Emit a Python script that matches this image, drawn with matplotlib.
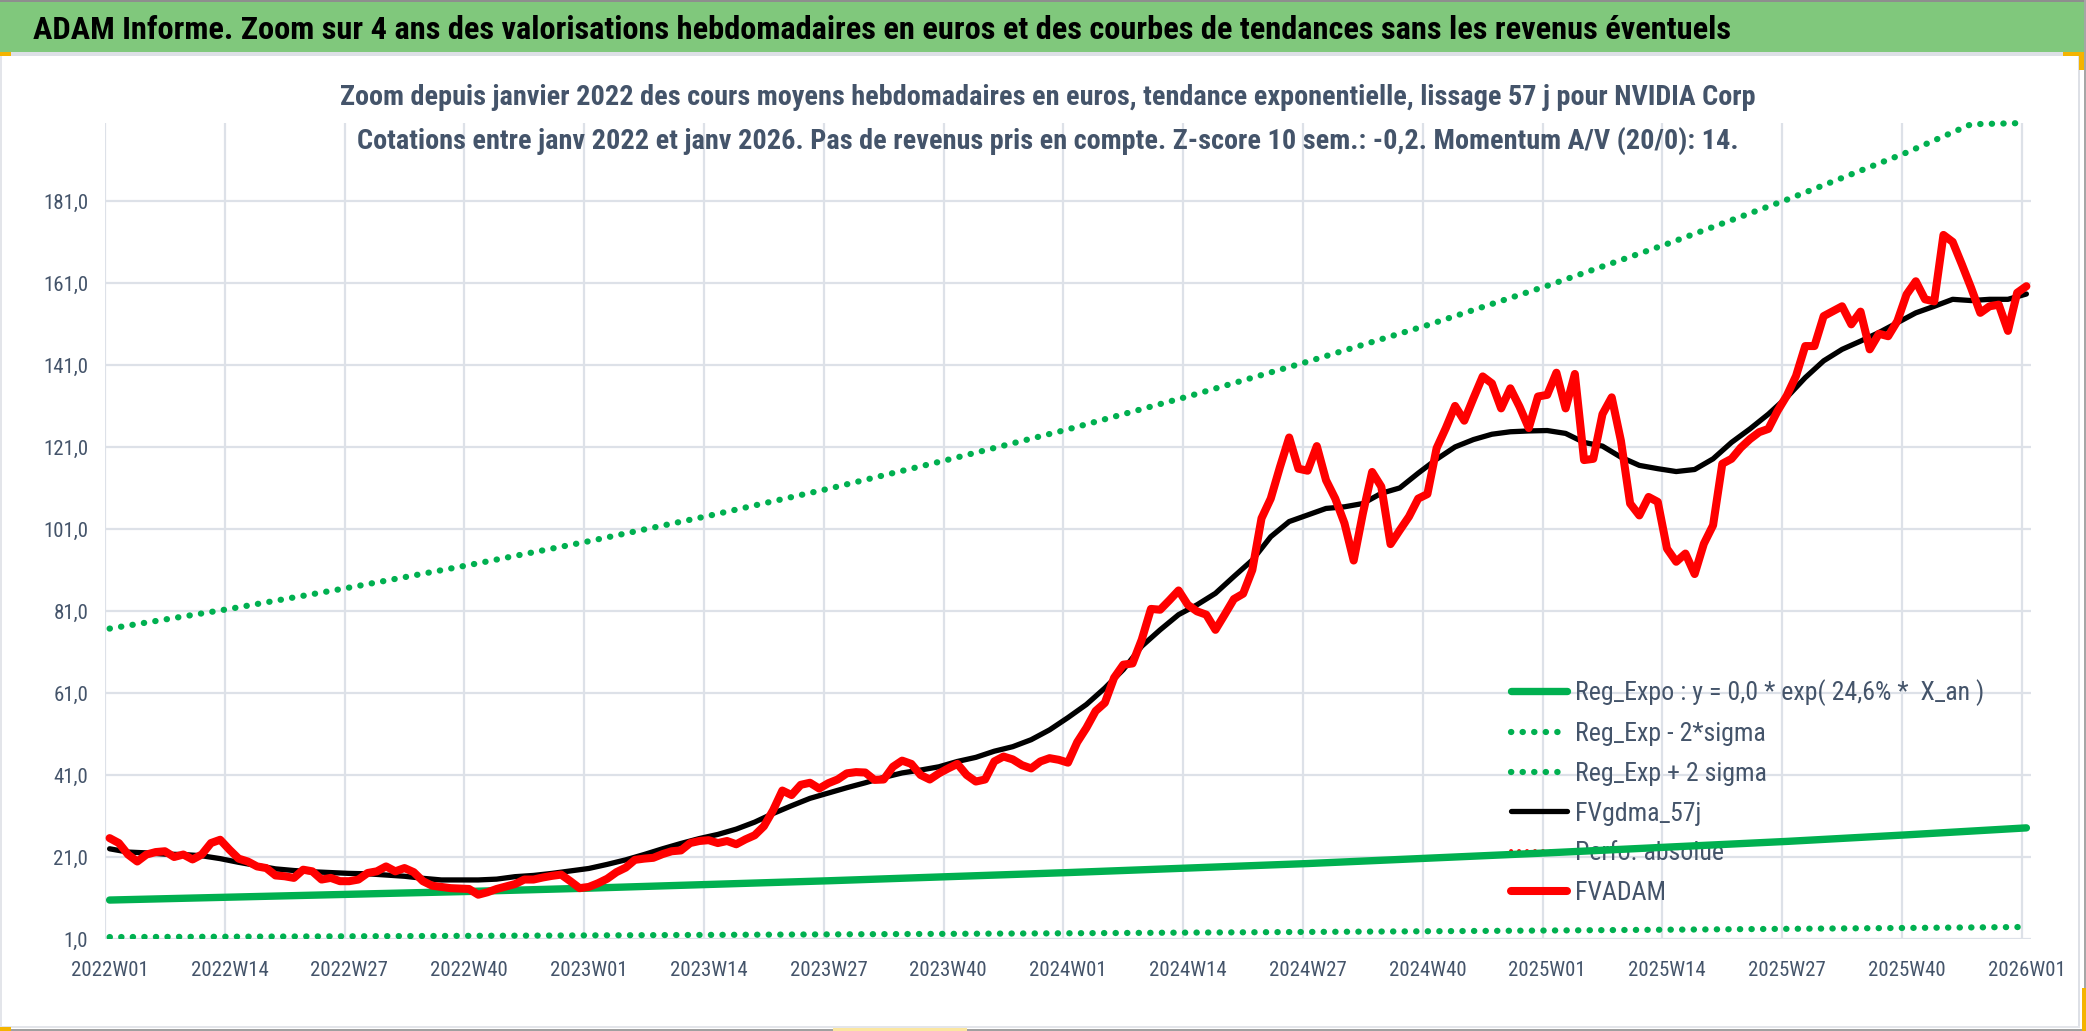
import numpy as np
import matplotlib
matplotlib.use("Agg")
import matplotlib.pyplot as plt
from matplotlib import font_manager as fm
from matplotlib.patches import Rectangle

# ---------------------------------------------------------------- data
week_labels = ["2022W01", "2022W14", "2022W27", "2022W40", "2023W01", "2023W14",
               "2023W27", "2023W40", "2024W01", "2024W14", "2024W27", "2024W40",
               "2025W01", "2025W14", "2025W27", "2025W40", "2026W01"]
label_weeks = [0, 13, 26, 39, 52, 65, 78, 91, 104, 117, 130, 143, 156, 169, 182, 195, 208]
y_ticks = [1, 21, 41, 61, 81, 101, 121, 141, 161, 181]

# FVADAM weekly values (2022W01 .. 2026W01)
fvadam = [
    25.6, 24.4, 21.6, 19.9, 21.6, 22.2, 22.4, 21.0, 21.6, 20.4, 21.6, 24.4, 25.2,
    22.8, 20.6, 19.9, 18.7, 18.3, 16.5, 16.3, 15.9, 17.9, 17.5, 15.5, 15.9, 15.1,
    15.1, 15.5, 17.1, 17.5, 18.7, 17.5, 18.3, 17.3, 15.1, 14.0, 13.7, 13.4, 13.3,
    13.2, 11.8, 12.4, 13.2, 13.8, 14.4, 15.5, 15.5, 16.0, 16.4, 16.7, 15.1, 13.4,
    13.7, 14.6, 15.7, 17.3, 18.4, 20.3, 20.6, 20.8, 21.7, 22.4, 22.6, 24.4, 24.9,
    25.1, 24.4, 24.9, 24.1, 25.3, 26.3, 28.5, 32.4, 37.2, 36.1, 38.6, 39.1, 37.7,
    39.0, 39.9, 41.4, 41.7, 41.6, 39.8, 39.9, 43.0, 44.5, 43.7, 41.0, 39.9, 41.4,
    42.6, 43.7, 41.0, 39.4, 39.9, 44.3, 45.5, 44.8, 43.4, 42.6, 44.3, 45.1, 44.7,
    44.0, 49.0, 52.5, 56.6, 58.6, 64.7, 67.9, 68.2, 74.0, 81.5, 81.3, 83.6, 86.0,
    82.5, 80.9, 80.1, 76.4, 80.1, 83.9, 85.2, 91.0, 103.6, 108.4, 116.1, 123.3, 115.7,
    115.2, 121.2, 112.9, 108.4, 102.4, 93.3, 104.8, 114.9, 111.3, 97.3, 100.7, 104.0, 108.4,
    109.5, 120.7, 125.6, 131.0, 127.4, 132.9, 138.2, 136.5, 130.4, 135.3, 130.8, 125.6, 133.3,
    133.7, 139.1, 130.4, 138.8, 117.8, 118.1, 129.0, 133.1, 122.5, 107.2, 104.3, 108.8, 107.6,
    96.2, 93.0, 95.0, 90.0, 97.4, 101.9, 116.9, 118.1, 120.8, 122.9, 124.6, 125.4, 129.8,
    133.5, 138.3, 145.6, 145.6, 152.9, 154.1, 155.3, 150.9, 154.0, 144.8, 148.6, 148.0, 151.7,
    158.2, 161.4, 157.0, 156.5, 172.7, 171.0, 165.5, 159.8, 153.7, 155.3, 155.7, 149.3, 158.6,
    160.2,
]

# FVgdma_57j, read every second week
fvgdma_weeks = list(range(0, 209, 2))
fvgdma = [
    23.0, 22.2, 22.0, 21.7, 21.6, 21.3, 20.6, 19.7, 18.9, 18.1, 17.7, 17.4, 17.2,
    17.0, 16.9, 16.6, 16.3, 15.8, 15.4, 15.4, 15.4, 15.6, 16.2, 16.5, 17.0, 17.6,
    18.2, 19.2, 20.3, 21.6, 23.0, 24.3, 25.5, 26.5, 27.8, 29.5, 31.6, 33.5, 35.3,
    36.6, 37.9, 39.1, 40.4, 41.5, 42.2, 43.0, 44.3, 45.3, 46.8, 47.9, 49.6, 52.0,
    55.0, 58.2, 62.2, 66.7, 72.4, 76.4, 80.1, 82.5, 85.3, 89.4, 93.4, 99.1, 102.8,
    104.4, 106.0, 106.4, 107.2, 109.7, 111.0, 114.6, 118.0, 121.0, 122.8, 124.1, 124.7, 124.9,
    125.0, 124.3, 122.1, 121.2, 118.5, 116.5, 115.7, 115.0, 115.5, 118.1, 122.1, 125.4, 129.0,
    133.1, 137.9, 142.0, 144.8, 146.8, 148.9, 151.3, 153.7, 155.3, 157.0, 156.7, 157.0, 157.0,
    158.3,
]

# Exponential trend and bands, read at each labelled week
reg_expo = [10.5, 11.2, 11.9, 12.6, 13.4, 14.3, 15.2, 16.2, 17.2, 18.3, 19.4,
            20.7, 22.0, 23.4, 24.8, 26.4, 28.1]
reg_low = [1.47, 1.56, 1.66, 1.77, 1.88, 2.00, 2.13, 2.26, 2.40, 2.56, 2.72,
           2.89, 3.07, 3.27, 3.48, 3.70, 3.93]
reg_up_weeks = [0, 13, 26, 39, 52, 65, 78, 91, 104, 117, 130, 143, 156, 169, 182, 195, 202, 208]
reg_up = [76.7, 81.5, 86.7, 92.2, 98.0, 104.2, 110.8, 117.9, 125.3, 133.3, 141.8,
          150.7, 160.3, 170.5, 181.3, 192.8, 199.7, 200.0]

series_names = ["Reg_Expo : y = 0,0 * exp( 24,6% *  X_an )", "Reg_Exp - 2*sigma",
                "Reg_Exp + 2 sigma", "FVgdma_57j", "Perfo. absolue", "FVADAM"]

title_text = ("ADAM Informe. Zoom sur 4 ans des valorisations hebdomadaires en euros "
              "et des courbes de tendances sans les revenus éventuels")
sub1 = ("Zoom depuis janvier 2022 des cours moyens hebdomadaires en euros, "
        "tendance exponentielle, lissage 57 j pour NVIDIA Corp")
sub2 = ("Cotations entre janv 2022 et janv 2026. Pas de revenus pris en compte. "
        "Z-score 10 sem.: -0,2. Momentum A/V (20/0): 14.")

# ---------------------------------------------------------------- style
W, H, DPI = 2086, 1031, 100
GREEN = "#00B050"
RED = "#FF0000"
SLATE = "#44546A"
GRID = "#DDE1E8"
BAR = "#80C87C"

names = {f.name for f in fm.fontManager.ttflist}
NARROW = "DejaVu Sans"
for cand in ["Liberation Sans Narrow", "Roboto Condensed", "Open Sans Condensed",
             "Liberation Sans", "DejaVu Sans"]:
    if cand in names:
        NARROW = cand
        break

fig = plt.figure(figsize=(W / DPI, H / DPI), dpi=DPI)
fig.patch.set_facecolor("white")
renderer = fig.canvas.get_renderer()


def rect(x0, y0, x1, y1, color, z=0):
    fig.add_artist(Rectangle((x0 / W, 1 - y1 / H), (x1 - x0) / W, (y1 - y0) / H,
                             transform=fig.transFigure, facecolor=color,
                             edgecolor="none", zorder=z))


def fit_size(s, target_px, weight="normal", base=20.0):
    t = fig.text(0, 0, s, fontsize=base, family=NARROW, weight=weight)
    w = t.get_window_extent(renderer).width
    t.remove()
    return base * target_px / w


# frame decorations
rect(0, 0, 2084, 52, BAR)
rect(0, 0, W, 1.5, "#8E8E8E")
rect(0, 52.5, 2080, 56, "#DDE0E6")
rect(0, 56, 2, 1027, "#E3E5EA")
rect(2077.5, 56, 2080, 1027, "#DDE0E6")
rect(0, 1025.5, 2080, 1028, "#E3E5EA")
rect(0, 1028.5, W, H, "#A0A0A0")
rect(2083.5, 0, W, H, "#A6A6A6")
rect(0, 52, 11, 56, "#F4B400", 1)
rect(2063, 52, 2084, 56, "#F4B400", 1)
rect(2079, 52, 2084, 70, "#F4B400", 1)
rect(2082, 988, W, H, "#F4B400", 1)
rect(0, 1027, 11, H, "#F4B400", 1)
rect(833, 1027.5, 967, H, "#FBE6A0", 1)

# titles
fs_title = fit_size(title_text, 1697, "bold")
fig.text(33 / W, 1 - 39 / H, title_text, fontsize=fs_title, family=NARROW,
         weight="bold", color="black", ha="left", va="baseline")
fs_sub = fit_size(sub1, 1410, "bold")
fig.text(1048 / W, 1 - 105 / H, sub1, fontsize=fs_sub, family=NARROW,
         weight="bold", color=SLATE, ha="center", va="baseline")
fig.text(1048 / W, 1 - 149 / H, sub2, fontsize=fs_sub, family=NARROW,
         weight="bold", color=SLATE, ha="center", va="baseline")

# axes
ax = fig.add_axes([105 / W, 1 - 939 / H, (2031 - 105) / W, (939 - 123) / H])
ax.set_facecolor("none")
ax.set_xlim(-0.5, len(fvadam) - 0.5)
ax.set_ylim(1, 200)
for s in ax.spines.values():
    s.set_visible(False)
ax.set_axisbelow(True)

fs_tick = fit_size("2022W01", 78)
ax.set_xticks(label_weeks)
ax.set_xticklabels(week_labels, family=NARROW, fontsize=fs_tick, color=SLATE)
ax.set_xticks([w - 0.5 for w in label_weeks], minor=True)
ax.set_yticks(y_ticks)
ax.set_yticklabels([f"{v:.1f}".replace(".", ",") for v in y_ticks],
                   family=NARROW, fontsize=fs_tick, color=SLATE)
ax.tick_params(axis="x", which="both", length=0, pad=15.5)
ax.tick_params(axis="y", which="both", length=0, pad=12)
ax.xaxis.grid(True, which="minor", color=GRID, lw=1.6)
ax.xaxis.grid(False, which="major")
ax.yaxis.grid(True, which="major", color=GRID, lw=1.6)

dot = (0, (0.05, 1.8))
ax.plot(label_weeks, reg_expo, color=GREEN, lw=5.3, solid_capstyle="round",
        label=series_names[0], zorder=3)
ax.plot(label_weeks, reg_low, color=GREEN, lw=4.5, linestyle=dot,
        dash_capstyle="round", label=series_names[1], zorder=3)
ax.plot(reg_up_weeks, reg_up, color=GREEN, lw=4.5, linestyle=dot,
        dash_capstyle="round", label=series_names[2], zorder=3, clip_on=False)
ax.plot(fvgdma_weeks, fvgdma, color="black", lw=3.8, solid_capstyle="round",
        solid_joinstyle="round", label=series_names[3], zorder=4)
ax.plot([], [], color=RED, lw=2.8, linestyle=(0, (0.05, 2.0)), dash_capstyle="round",
        label=series_names[4])
ax.plot(np.arange(len(fvadam)), fvadam, color=RED, lw=5.8, solid_capstyle="round",
        solid_joinstyle="round", label=series_names[5], zorder=5)

# legend
fs_leg = fit_size(series_names[0], 409)
fpx = fs_leg * DPI / 72.0


def make_legend(top_px, ls):
    lg = ax.legend(loc="upper left", bbox_to_anchor=(1511 / W, 1 - top_px / H),
                   bbox_transform=fig.transFigure, frameon=False, borderpad=0,
                   borderaxespad=0, prop={"family": NARROW, "size": fs_leg},
                   handlelength=56 / fpx, handletextpad=8 / fpx, labelspacing=ls,
                   labelcolor=SLATE)
    lg.set_zorder(2)
    return lg


ls = 0.5
top = 678
leg = make_legend(top, ls)
for _ in range(3):
    fig.canvas.draw()
    tx = leg.get_texts()
    b0 = tx[0].get_window_extent(renderer)
    bl = tx[-1].get_window_extent(renderer)
    c0 = H - (b0.y0 + b0.y1) / 2
    cl = H - (bl.y0 + bl.y1) / 2
    pitch = (cl - c0) / (len(tx) - 1)
    ls = ls + (40 - pitch) / fpx
    top = top + (693 - c0)
    leg.remove()
    leg = make_legend(top, ls)

fig.savefig("out.png", dpi=DPI, facecolor="white")
